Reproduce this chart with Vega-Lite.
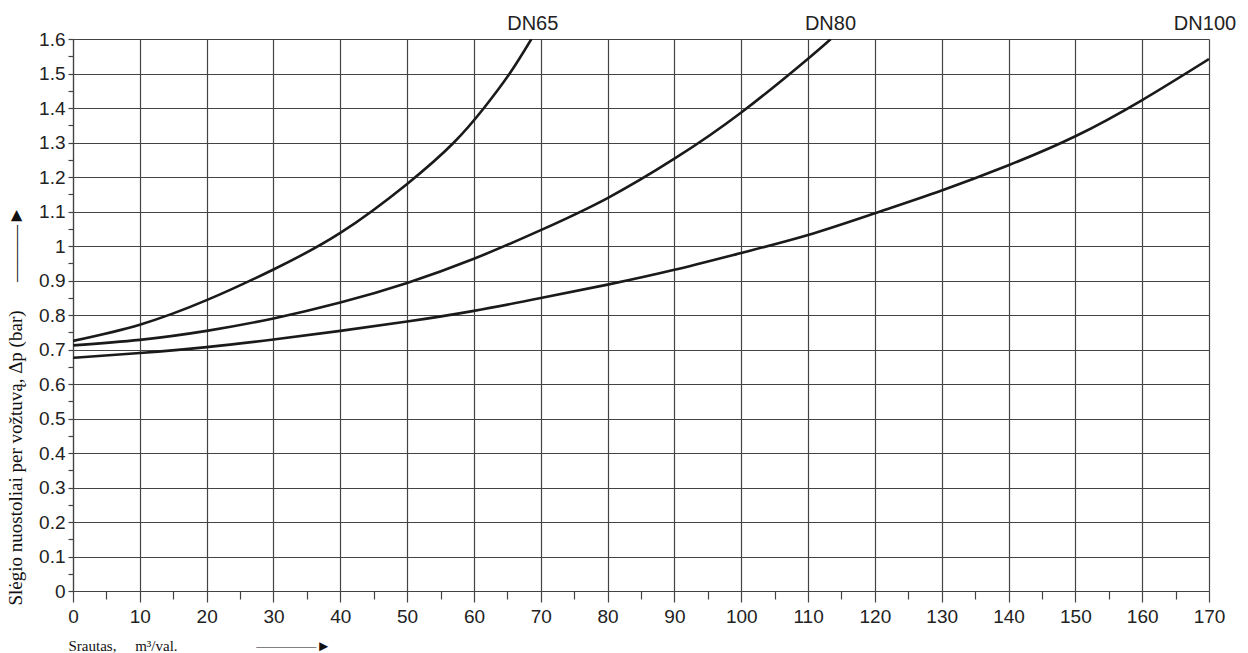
{
  "$schema": "https://vega.github.io/schema/vega-lite/v6.json",
  "width": 1136,
  "height": 552,
  "autosize": {"type": "none"},
  "padding": {"left": 73, "top": 39, "right": 39, "bottom": 62},
  "background": "white",
  "config": {"view": {"stroke": null}},
  "datasets": {
    "curves": [
      {"series": "DN65", "flow": 0, "dp": 0.725},
      {"series": "DN65", "flow": 10, "dp": 0.772},
      {"series": "DN65", "flow": 20, "dp": 0.843},
      {"series": "DN65", "flow": 30, "dp": 0.932},
      {"series": "DN65", "flow": 40, "dp": 1.038},
      {"series": "DN65", "flow": 50, "dp": 1.18},
      {"series": "DN65", "flow": 57, "dp": 1.3},
      {"series": "DN65", "flow": 61.5, "dp": 1.4},
      {"series": "DN65", "flow": 65.35, "dp": 1.5},
      {"series": "DN65", "flow": 68.6, "dp": 1.6},
      {"series": "DN80", "flow": 0, "dp": 0.712},
      {"series": "DN80", "flow": 10, "dp": 0.728},
      {"series": "DN80", "flow": 20, "dp": 0.754},
      {"series": "DN80", "flow": 30, "dp": 0.79},
      {"series": "DN80", "flow": 40, "dp": 0.836},
      {"series": "DN80", "flow": 50, "dp": 0.893},
      {"series": "DN80", "flow": 60, "dp": 0.963},
      {"series": "DN80", "flow": 70, "dp": 1.046},
      {"series": "DN80", "flow": 80, "dp": 1.139},
      {"series": "DN80", "flow": 90, "dp": 1.253},
      {"series": "DN80", "flow": 100, "dp": 1.387},
      {"series": "DN80", "flow": 110, "dp": 1.543},
      {"series": "DN80", "flow": 113.4, "dp": 1.6},
      {"series": "DN100", "flow": 0, "dp": 0.676},
      {"series": "DN100", "flow": 10, "dp": 0.69},
      {"series": "DN100", "flow": 20, "dp": 0.707},
      {"series": "DN100", "flow": 30, "dp": 0.729},
      {"series": "DN100", "flow": 40, "dp": 0.754},
      {"series": "DN100", "flow": 50, "dp": 0.781},
      {"series": "DN100", "flow": 60, "dp": 0.812},
      {"series": "DN100", "flow": 70, "dp": 0.849},
      {"series": "DN100", "flow": 80, "dp": 0.888},
      {"series": "DN100", "flow": 90, "dp": 0.931},
      {"series": "DN100", "flow": 100, "dp": 0.98},
      {"series": "DN100", "flow": 110, "dp": 1.032},
      {"series": "DN100", "flow": 120, "dp": 1.095},
      {"series": "DN100", "flow": 130, "dp": 1.161},
      {"series": "DN100", "flow": 140, "dp": 1.234},
      {"series": "DN100", "flow": 150, "dp": 1.318},
      {"series": "DN100", "flow": 160, "dp": 1.423},
      {"series": "DN100", "flow": 170, "dp": 1.542}
    ],
    "labels": [
      {"series": "DN65", "flow": 68.8, "dp": 1.6},
      {"series": "DN80", "flow": 113.35, "dp": 1.6},
      {"series": "DN100", "flow": 169.4, "dp": 1.6}
    ]
  },
  "encoding": {
    "x": {
      "field": "flow",
      "type": "quantitative",
      "scale": {"domain": [0, 170], "nice": false, "zero": false},
      "axis": {
        "values": [0,5,10,15,20,25,30,35,40,45,50,55,60,65,70,75,80,85,90,95,100,105,110,115,120,125,130,135,140,145,150,155,160,165,170],
        "labelExpr": "datum.value % 10 === 0 ? format(datum.value, 'd') : ''",
        "grid": true,
        "gridOpacity": {"condition": {"test": "datum.value % 10 === 0", "value": 1}, "value": 0},
        "gridColor": "#444444",
        "gridWidth": 1.2,
        "ticks": true,
        "tickSize": {"condition": {"test": "datum.value % 10 === 0", "value": 11}, "value": 8},
        "tickColor": "#444444",
        "tickWidth": 1.2,
        "domainColor": "#444444",
        "domainWidth": 1.2,
        "labelFont": "Liberation Sans",
        "labelFontSize": 19,
        "labelColor": "#222222",
        "labelPadding": 5,
        "labelFlush": false,
        "labelOverlap": false,
        "title": "Srautas,\u00a0\u00a0\u00a0\u00a0\u00a0m³/val.\u00a0\u00a0\u00a0\u00a0\u00a0\u00a0\u00a0\u00a0\u00a0\u00a0\u00a0\u00a0\u00a0\u00a0\u00a0\u00a0\u00a0\u00a0\u00a0\u00a0\u00a0————►",
        "titleFont": "Liberation Serif",
        "titleFontSize": 15,
        "titleFontWeight": "normal",
        "titleColor": "#111111",
        "titleAnchor": "start",
        "titleAlign": "left",
        "titleBaseline": "alphabetic",
        "titleX": -5,
        "titleY": 59
      }
    },
    "y": {
      "field": "dp",
      "type": "quantitative",
      "scale": {"domain": [0, 1.6], "nice": false},
      "axis": {
        "values": [0,0.05,0.1,0.15,0.2,0.25,0.3,0.35,0.4,0.45,0.5,0.55,0.6,0.65,0.7,0.75,0.8,0.85,0.9,0.95,1,1.05,1.1,1.15,1.2,1.25,1.3,1.35,1.4,1.45,1.5,1.55,1.6],
        "labelExpr": "round(datum.value * 20) % 2 === 0 ? format(datum.value, '.1~f') : ''",
        "grid": true,
        "gridOpacity": {"condition": {"test": "round(datum.value * 20) % 2 === 0", "value": 1}, "value": 0},
        "gridColor": "#444444",
        "gridWidth": 1.2,
        "ticks": true,
        "tickSize": 5,
        "tickColor": "#444444",
        "tickWidth": 1.2,
        "domainColor": "#444444",
        "domainWidth": 1.2,
        "labelFont": "Liberation Sans",
        "labelFontSize": 19,
        "labelColor": "#222222",
        "labelPadding": 3,
        "labelFlush": false,
        "labelOverlap": false,
        "title": "Slėgio nuostoliai per vožtuvą, Δp (bar)\u00a0\u00a0\u00a0\u00a0\u00a0\u00a0———►",
        "titleFont": "Liberation Serif",
        "titleFontSize": 19,
        "titleFontWeight": "normal",
        "titleColor": "#111111",
        "titleAngle": 270,
        "titleAnchor": "start",
        "titleAlign": "left",
        "titleBaseline": "middle",
        "titleX": -58,
        "titleY": 566
      }
    }
  },
  "layer": [
    {
      "data": {"name": "curves"},
      "mark": {"type": "line", "interpolate": "natural", "color": "#1a1a1a", "strokeWidth": 2.6, "clip": true},
      "encoding": {
        "detail": {"field": "series", "type": "nominal"}
      }
    },
    {
      "data": {"name": "labels"},
      "mark": {"type": "text", "font": "Liberation Sans", "fontSize": 20, "baseline": "alphabetic", "align": "center", "dy": -9, "color": "#222222"},
      "encoding": {
        "text": {"field": "series", "type": "nominal"}
      }
    }
  ]
}
